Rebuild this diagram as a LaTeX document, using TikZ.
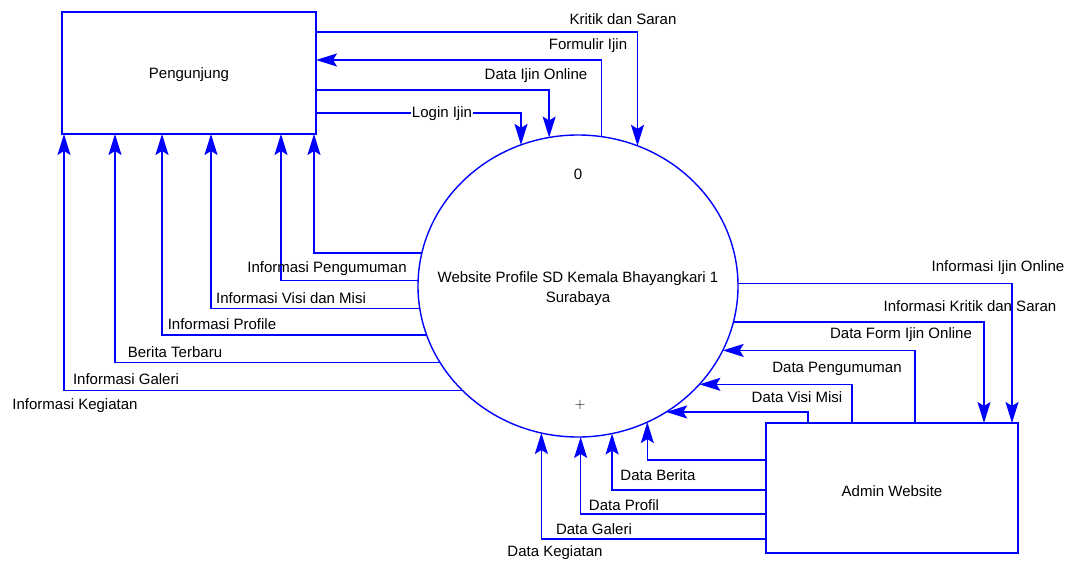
\documentclass[tikz,border=0pt]{standalone}
\usepackage{fontspec}
\setmainfont{Liberation Sans}
\usepackage{tikz}
\usetikzlibrary{arrows.meta,shapes.geometric}

\begin{document}
\begin{tikzpicture}[x=1pt,y=-1pt
	,>={Stealth[length=21pt,width=13pt,inset=4pt]}
	,font=\fontsize{15}{17}\selectfont
	,line width=1.4pt]
  \tikzstyle{flow}=[draw=blue,->]
  \tikzstyle{entity}=[draw=blue,rectangle,inner sep=0pt,outer sep=0pt]
  \tikzstyle{lbl}=[inner sep=0pt]

  \useasboundingbox (0,0) rectangle (1074,565);

  %external entities and the process
  \node[entity,minimum width=254pt,minimum height=122pt] (peng) at (189,73) {};
  \node (pengName) at (189,75) {Pengunjung};
  \node[entity,minimum width=252pt,minimum height=130pt] (adm) at (892,488) {};
  \node (admName) at (892,491) {Admin Website};
  \node[draw=blue,ellipse,minimum width=320pt,minimum height=302pt
	,inner sep=0pt,outer sep=0pt] (proc) at (578,286) {};
  \node (procNo) at (578,174) {0};
  \node[align=center,font=\fontsize{15}{20}\selectfont] (procName) at (578,289)
	{Website Profile SD Kemala Bhayangkari 1\\Surabaya};
  \node (procPlus) at (580,405) {$+$};

  %pengunjung <-> proses
  \draw[flow] ([yshift=41pt]peng.east) -| (proc.67.6);
  \draw[flow] (proc.81.6) |- ([yshift=13pt]peng.east);
  \draw[flow] ([yshift=-17pt]peng.east) -| (proc.101.4);
  \draw[flow] ([yshift=-40pt]peng.east) -| (proc.112.4);

  \draw[flow] (proc.168.8) -| ([xshift=252pt]peng.south west);
  \draw[flow] (proc.178.9) -| ([xshift=219pt]peng.south west);
  \draw[flow] (proc.188.6) -| ([xshift=149pt]peng.south west);
  \draw[flow] (proc.198.7) -| ([xshift=100pt]peng.south west);
  \draw[flow] (proc.209.7) -| ([xshift=53pt]peng.south west);
  \draw[flow] (proc.222.4) -| ([xshift=2pt]peng.south west);

  %proses <-> admin
  \draw[flow] (proc.1.4) -| ([xshift=-6pt]adm.north east);
  \draw[flow] (proc.347.7) -| ([xshift=-34pt]adm.north east);
  \draw[flow] ([xshift=149pt]adm.north west) |- (proc.336.6);
  \draw[flow] ([xshift=86pt]adm.north west) |- (proc.321.65);
  \draw[flow] ([xshift=42pt]adm.north west) |- (proc.305);

  \draw[flow] ([yshift=28pt]adm.west) -| (proc.297.3);
  \draw[flow] ([yshift=-2pt]adm.west) -| (proc.283.4);
  \draw[flow] ([yshift=-26pt]adm.west) -| (proc.271.9);
  \draw[flow] ([yshift=-51pt]adm.west) -| (proc.256.6);

  %labels
  \node[lbl] (lKritik) at (623,19) {Kritik dan Saran};
  \node[lbl] (lFormulir) at (588,46) {Formulir Ijin};
  \node[lbl] (lDataIjin) at (536,76) {Data Ijin Online};
  \node[lbl,fill=white,inner xsep=1pt] (lLogin) at (442,114) {Login Ijin};

  \node[lbl] (lInfoPeng) at (327,269) {Informasi Pengumuman};
  \node[lbl] (lInfoVisi) at (291,298) {Informasi Visi dan Misi};
  \node[lbl] (lInfoProf) at (222,324) {Informasi Profile};
  \node[lbl] (lBerita) at (175,352) {Berita Terbaru};
  \node[lbl] (lInfoGal) at (126,379) {Informasi Galeri};
  \node[lbl] (lInfoKeg) at (75,406) {Informasi Kegiatan};

  \node[lbl] (lInfoIjin) at (998,268) {Informasi Ijin Online};
  \node[lbl] (lInfoKrit) at (970,306) {Informasi Kritik dan Saran};
  \node[lbl] (lDataForm) at (901,335) {Data Form Ijin Online};
  \node[lbl] (lDataPeng) at (837,369) {Data Pengumuman};
  \node[lbl] (lDataVisi) at (797,397) {Data Visi Misi};

  \node[lbl] (lDataBer) at (658,475) {Data Berita};
  \node[lbl] (lDataProf) at (624,505) {Data Profil};
  \node[lbl] (lDataGal) at (594,529) {Data Galeri};
  \node[lbl] (lDataKeg) at (555,553) {Data Kegiatan};
\end{tikzpicture}
\end{document}
